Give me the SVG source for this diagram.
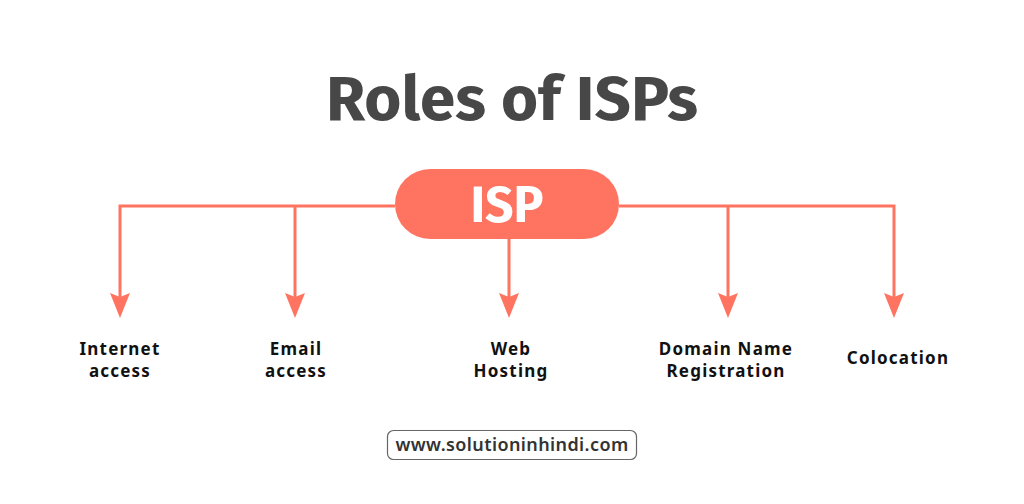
<svg xmlns="http://www.w3.org/2000/svg" width="1024" height="504" viewBox="0 0 1024 504">
<style>
.title{font-family:"Fira Sans","Noto Sans","Open Sans",sans-serif;font-weight:700;font-size:62px;fill:#474747;text-anchor:middle}
.lbl{font-family:"Noto Sans","Open Sans",sans-serif;font-weight:700;font-size:17px;fill:#111;text-anchor:middle;letter-spacing:1.2px}
.conn{stroke:#FF7461;stroke-width:3;fill:none}
.head{fill:#FF7461}
.web{font-family:"Noto Sans","Open Sans",sans-serif;font-weight:600;font-size:18px;fill:#333;text-anchor:middle;letter-spacing:0.4px}
</style>
<rect width="1024" height="504" fill="#fff"/>
<text class="title" x="512" y="120" textLength="372" lengthAdjust="spacingAndGlyphs">Roles of ISPs</text>
<g id="connectors">
<polyline class="conn" points="395,206 120,206 120,300"/>
<line class="conn" x1="295" y1="206" x2="295" y2="300"/>
<line class="conn" x1="509" y1="239" x2="509" y2="300"/>
<polyline class="conn" points="619,206 894,206 894,300"/>
<line class="conn" x1="728" y1="206" x2="728" y2="300"/>
<path class="head" d="M110,293 L120,318 L130,293 L120,297 Z"/>
<path class="head" d="M285,293 L295,318 L305,293 L295,297 Z"/>
<path class="head" d="M499,293 L509,318 L519,293 L509,297 Z"/>
<path class="head" d="M718,293 L728,318 L738,293 L728,297 Z"/>
<path class="head" d="M884,293 L894,318 L904,293 L894,297 Z"/>
</g>
<g id="isp">
<rect x="395" y="169" width="224" height="70" rx="35" fill="#FF7461"/>
<text x="507" y="222" font-family="'Fira Sans','Noto Sans','Open Sans',sans-serif" font-weight="700" font-size="50" fill="#fff" text-anchor="middle">ISP</text>
</g>
<g id="internet"><text class="lbl" x="120" y="355">Internet</text><text class="lbl" x="120" y="377">access</text></g>
<g id="email"><text class="lbl" x="296" y="355">Email</text><text class="lbl" x="296" y="377">access</text></g>
<g id="webhosting"><text class="lbl" x="511" y="355">Web</text><text class="lbl" x="511" y="377">Hosting</text></g>
<g id="domain"><text class="lbl" x="726" y="355">Domain Name</text><text class="lbl" x="726" y="377">Registration</text></g>
<g id="colocation"><text class="lbl" x="898" y="364">Colocation</text></g>
<g id="website">
<rect x="387.5" y="430.5" width="249" height="29" rx="6" fill="#fff" stroke="#666" stroke-width="1.2"/>
<text class="web" x="512" y="451">www.solutioninhindi.com</text>
</g>
</svg>
